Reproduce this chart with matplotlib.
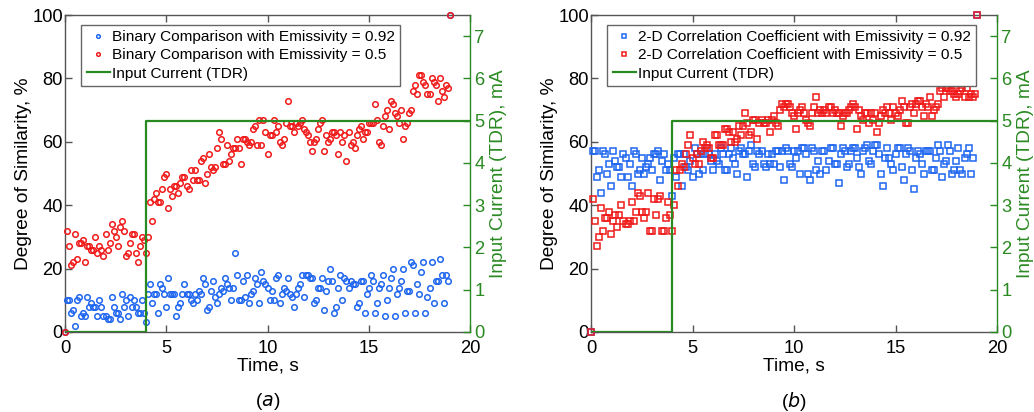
import numpy as np
import matplotlib
matplotlib.use("Agg")
import matplotlib.pyplot as plt

plt.rcParams['font.family'] = ['Liberation Sans', 'DejaVu Sans']

# ---------------- data ----------------
dt = 0.1
end_time = 19.0   # last sample (saturated at 100 %)

# (a) Binary comparison
bin_e092 = ([0] +
    [10,10,6,7,2,10,11,5,6,5,11,8,9,8,8,5,10,8,5,5,4,4,11,8,6,6,4,12,8,10,5,11,8,10,8,6,6,10,6,3] +
    [12,15,9,12,12,6,15,14,12,8,17,12,12,12,5,8,9,12,15,12,12,10,9,12,10,13,12,17,15,7,
     8,13,16,11,9,12,14,13,17,15,14,10,14,25,18,10,10,16,11,18,9,12,13,17,15,9] +
    [19,16,15,14,10,13,10,17,18,9,12,14,13,17,12,11,8,12,14,15,18,11,18,18,17,17,9,10,14,14,
     17,7,13,16,20,16,6,8,14,18,10,17,16,14,16,15,15,8,9,16,16,6,12,14,18,16,6,9,14,15,
     18,5,10,14,17,20,5,12,14,16,20,6,13,13,22,21,6,15,12,19,22,6,11,14,22,9,16,16,23,18,
     9,18,16] +
    [100])

bin_e05 = ([0] +
    [32,27,21,22,31,23,28,28,29,22,27,27,26,26,30,25,27,26,24,31,26,28,34,32,30,27,33,35,32,24,
     25,28,31,31,25,22,27,30,29,25] +
    [30,41,35,42,44,41,41,45,49,50,39,45,43,46,46,44,47,49,49,46,45,51,48,51,48,48,54,55,47,50,
     56,52,51,52,58,63,61,53,53,59,54,56,58,58,61,58,53,61,61,60,59,60,64,65,59,67] +
    [59,67,63,56,62,62,67,63,65,60,59,61,66,73,65,65,63,66,65,66,67,64,63,62,60,57,60,61,64,66,
     67,57,62,60,61,63,63,62,56,63,60,62,54,63,59,60,58,62,64,65,61,63,63,66,66,66,72,67,60,59,
     65,68,70,64,73,72,69,68,66,70,61,65,66,69,70,76,78,75,81,81,79,78,75,75,80,79,78,73,80,
     76,74,78,77] +
    [100])

# (b) 2-D correlation coefficient
cc_e092 = ([0] +
    [57,57,49,51,44,57,56,50,53,46,57,54,52,52,49,56,55,49,53,46,57,56,50,51,55,50,52,53,55,51,
     56,56,57,48,54,56,51,53,51,43] +
    [55,49,56,56,46,56,52,51,54,49,58,56,50,56,51,56,58,56,54,51,56,54,53,58,56,51,51,56,58,55,
     53,50,57,58,56,56,49,57,59,53,52,57,56,57,53,52,56,53,56,53,57,57,52,57,48,58] +
    [57,53,52,57,55,57,50,58,58,56,50,48,58,57,51,54,50,57,57,51,54,58,58,53,53,47,56,58,57,52,
     53,57,58,58,55,52,50,57,58,59,54,53,57,59,59,56,50,46,55,58,55,53,51,56,58,58,52,48,56,58,
     57,51,45,55,57,56,53,50,57,57,57,51,51,55,59,57,49,53,54,59,57,50,51,54,58,51,50,55,56,
     58,50,55] +
    [100])

cc_e05 = ([0] +
    [42,35,27,30,39,32,36,36,38,31,35,37,33,37,40,35,34,34,35,41,35,38,44,43,38,36,38,44,32,32,
     42,37,42,43,32,32,36,41,37,32] +
    [40,51,46,51,53,52,56,59,62,55,53,56,53,57,60,58,59,58,55,55,62,62,59,59,59,64,64,63,60,63,
     60,61,65,62,65,69,66,62,63,67,67,61,66,67,66,66,67,63,67,68,66,65,70,72,71,72] +
    [72,71,69,68,64,69,70,71,69,67,66,65,69,71,74,69,70,69,70,69,71,71,69,70,69,69,65,68,69,69,
     70,71,72,71,64,70,68,67,69,69,66,69,67,69,63,66,68,70,69,71,69,67,71,69,68,70,73,71,66,66,
     71,72,69,72,73,73,71,68,72,71,74,68,70,71,72,76,77,74,77,77,76,76,75,74,75,76,77,74,77,
     74,75,74,75] +
    [100])

current_t = [0, 4, 4, 20]
current_mA = [0, 0, 5, 5]

labels_a = ['Binary Comparison with Emissivity = 0.92', 'Binary Comparison with Emissivity = 0.5']
labels_b = ['2-D Correlation Coefficient with Emissivity = 0.92', '2-D Correlation Coefficient with Emissivity = 0.5']
panel_tags = ['a', 'b']


def sample_times(series):
    n = len(series)
    return np.concatenate([np.round(np.arange(n - 1) * dt, 1), [end_time]])


# ---------------- style ----------------
BLUE = '#1f66f0'
RED = '#f01a1a'
GREEN = '#2a8a22'
SPINE = '#555555'
TICK_FS = 13.2
LAB_FS = 13.8

fig = plt.figure(figsize=(10.34, 4.12), dpi=100)
axes_rects = [[65/1034, 80/412, 405/1034, 317/412],
              [591/1034, 80/412, 406/1034, 317/412]]

panels = [(bin_e092, bin_e05, labels_a, 'o'), (cc_e092, cc_e05, labels_b, 's')]

for i, (rect, (s1, s2, labs, mk)) in enumerate(zip(axes_rects, panels)):
    ax = fig.add_axes(rect)
    ms = 4.0 if mk == 'o' else 3.8
    ax.plot(sample_times(s1), s1, linestyle='none', marker=mk, ms=ms, mfc='none', mec=BLUE,
            mew=1.1, clip_on=False, label=labs[0], zorder=3)
    ax.plot(sample_times(s2), s2, linestyle='none', marker=mk, ms=ms, mfc='none', mec=RED,
            mew=1.1, clip_on=False, label=labs[1], zorder=3)
    ax.set_xlim(0, 20)
    ax.set_ylim(0, 100)
    ax.set_xticks([0, 5, 10, 15, 20])
    ax.set_yticks([0, 20, 40, 60, 80, 100])
    ax.tick_params(axis='both', direction='in', length=5, width=1, color=SPINE,
                   labelsize=TICK_FS, top=True, pad=1.5)
    ax.tick_params(axis='x', pad=6)
    for sp in ['left', 'top', 'bottom']:
        ax.spines[sp].set_color(SPINE)
        ax.spines[sp].set_linewidth(1.0)
    ax.spines['right'].set_visible(False)
    ax.set_xlabel('Time, s', fontsize=LAB_FS, labelpad=0)
    ax.set_ylabel('Degree of Similarity, %', fontsize=LAB_FS, labelpad=0)

    ax2 = ax.twinx()
    ln, = ax2.plot(current_t, current_mA, color=GREEN, lw=1.6, label='Input Current (TDR)', zorder=2)
    ax2.set_ylim(0, 7.5)
    ax2.set_yticks(range(0, 8))
    ax2.tick_params(axis='y', direction='in', length=5, width=1, color=GREEN,
                    labelcolor=GREEN, labelsize=TICK_FS, pad=3)
    ax2.spines['right'].set_color(GREEN)
    ax2.spines['right'].set_linewidth(1.0)
    for sp in ['left', 'top', 'bottom']:
        ax2.spines[sp].set_visible(False)
    ax2.set_ylabel('Input Current (TDR), mA', fontsize=LAB_FS, color=GREEN, labelpad=4)

    h1, l1 = ax.get_legend_handles_labels()
    leg = ax2.legend(h1 + [ln], l1 + ['Input Current (TDR)'], loc='upper left',
                     bbox_to_anchor=(0.04, 0.97), fontsize=11.1, frameon=True,
                     fancybox=False, edgecolor='#666666', framealpha=1,
                     handlelength=1.5, handletextpad=0.15, borderpad=0.35,
                     labelspacing=0.28, borderaxespad=0, markerscale=0.65)
    leg.get_frame().set_linewidth(1.0)

    ax.text(0.5, -0.22, '(' + r'$\it{' + panel_tags[i] + '}$' + ')', transform=ax.transAxes,
            ha='center', va='center', fontsize=LAB_FS)

fig.savefig('out.png', dpi=100)
